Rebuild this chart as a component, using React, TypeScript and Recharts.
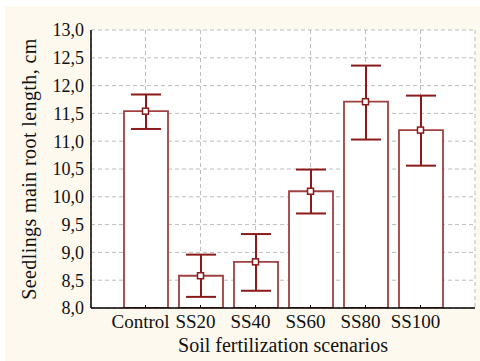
import { ComposedChart, Bar, ErrorBar, Scatter, XAxis, YAxis, CartesianGrid, Label } from 'recharts';

// fertilization scenarios and main root length (cm)
const categories = ['Control', 'SS20', 'SS40', 'SS60', 'SS80', 'SS100'];
const means = [11.54, 8.58, 8.83, 10.1, 11.71, 11.2];
const lower = [11.22, 8.2, 8.31, 9.7, 11.03, 10.56];
const upper = [11.84, 8.96, 9.33, 10.49, 12.36, 11.82];
const yTicks = [8, 8.5, 9, 9.5, 10, 10.5, 11, 11.5, 12, 12.5, 13];

const data = categories.map((name, i) => ({
  name,
  mean: means[i],
  err: [means[i] - lower[i], upper[i] - means[i]],
}));

const FONT = "'Liberation Serif', 'Times New Roman', serif";
const RED = '#8b1a1a';
const fmt = (v: number) => v.toFixed(1).replace('.', ',');

const MeanMarker = (props: any) => {
  const { cx, cy } = props;
  if (cx == null || cy == null) return null;
  return <rect x={cx - 3} y={cy - 3} width={6} height={6} fill="#fff" stroke={RED} strokeWidth={1.5} />;
};

export default function App() {
  return (
    <div style={{ position: 'absolute', left: 0, top: 0, width: 480, height: 361, background: '#fff', fontFamily: FONT }}>
      <div style={{ position: 'absolute', left: 5, top: 6, width: 475, height: 355, background: '#fdf9ee' }}>
        <ComposedChart width={475} height={355} data={data} margin={{ top: 24, right: 5, bottom: 0, left: 0 }}>
          <CartesianGrid stroke="#bdbdbd" strokeDasharray="4 3" fill="#fff" />
          <XAxis
            dataKey="name"
            padding={{ left: 27, right: 27 }}
            height={53}
            tickSize={-3}
            tickMargin={10}
            tick={{ fontFamily: FONT, fontSize: 19, fill: '#111', dx: -5 }}
            tickLine={{ stroke: '#000' }}
            axisLine={{ stroke: '#000', strokeWidth: 1.5 }}
            interval={0}
          >
            <Label
              value="Soil fertilization scenarios"
              position="insideBottom"
              offset={9}
              style={{ fontFamily: FONT, fontSize: 20, fill: '#111' }}
            />
          </XAxis>
          <XAxis
            xAxisId="top"
            dataKey="name"
            orientation="top"
            mirror
            height={0}
            padding={{ left: 27, right: 27 }}
            tickSize={3}
            tickFormatter={() => ''}
            tickLine={{ stroke: '#000' }}
            axisLine={{ stroke: '#000', strokeWidth: 1.5 }}
            interval={0}
          />
          <YAxis
            domain={[8, 13]}
            ticks={yTicks}
            allowDataOverflow
            width={86}
            tickSize={0}
            tickMargin={7}
            tickFormatter={fmt}
            tick={{ fontFamily: FONT, fontSize: 18, fill: '#111' }}
            axisLine={{ stroke: '#000', strokeWidth: 1.5 }}
          >
            <Label
              value="Seedlings main root length, cm"
              angle={-90}
              position="insideLeft"
              offset={24}
              style={{ fontFamily: FONT, fontSize: 20, letterSpacing: 0.4, fill: '#111', textAnchor: 'middle' }}
            />
          </YAxis>
          <YAxis
            yAxisId="right"
            orientation="right"
            mirror
            width={0}
            domain={[8, 13]}
            ticks={yTicks}
            allowDataOverflow
            tickSize={3}
            tickFormatter={() => ''}
            tickLine={{ stroke: '#000' }}
            axisLine={{ stroke: '#555', strokeWidth: 2 }}
          />
          <Bar dataKey="mean" barSize={44} fill="#fff" stroke="#a04040" strokeWidth={1.8} isAnimationActive={false}>
            <ErrorBar dataKey="err" width={15} stroke={RED} strokeWidth={2} />
          </Bar>
          <Scatter dataKey="mean" shape={MeanMarker} isAnimationActive={false} />
        </ComposedChart>
      </div>
    </div>
  );
}
